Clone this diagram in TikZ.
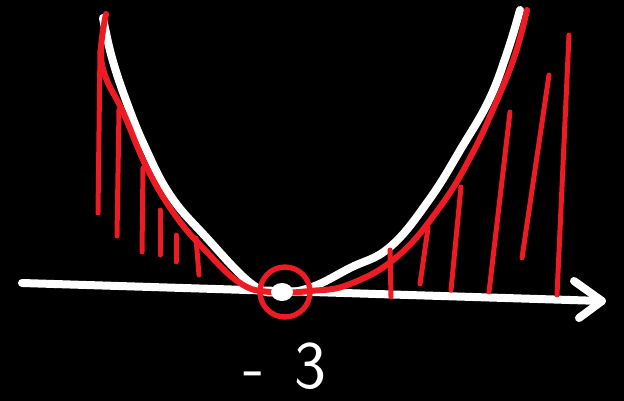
\documentclass[tikz,border=0pt]{standalone}
\usepackage{tikz}
\usetikzlibrary{positioning}
\definecolor{penred}{RGB}{237,28,36}

\begin{document}
\begin{tikzpicture}[
    x=0.03cm, y=-0.03cm,
    chalk/.style={draw=white, line width=0.24cm, line cap=round, line join=round},
    redpen/.style={draw=penred, line width=0.18cm, line cap=round, line join=round},
    hatch/.style={draw=penred, line width=0.15cm, line cap=round},
    label/.style={text=white, inner sep=0pt, font=\sffamily\fontsize{58}{58}\selectfont}
]

% Background
\fill[black] (0,0) rectangle (624,401);
\useasboundingbox (0,0) rectangle (624,401);

% Axis
\coordinate (axisL) at (22,283);
\coordinate (axisR) at (602,301);
\draw[chalk] (axisL) -- (axisR);
\draw[chalk] (574,281) -- (axisR) -- (579,318);

% White parabola
\draw[chalk] plot[smooth, tension=0.7] coordinates {
    (103,18) (112,58) (127,103) (145,147) (170,195) (205,236) (253,285)
    (282,292) (312,287) (350,268) (390,247) (429,200) (462,147) (489,100) (507,53) (520,10)};

% Red parabola
\draw[redpen] plot[smooth, tension=0.7] coordinates {
    (106,14) (101,50) (106,78) (123,112) (147,168) (175,215) (205,250) (240,283)
    (270,292) (310,291) (350,284) (398,256) (440,207) (470,158) (495,105) (515,55) (527,10)};

% Hatching, left
\foreach \xa/\ya/\xb/\yb in {100/50/98/213, 119/110/117/236, 143/168/142/252,
    160/210/160/255, 176/235/176/262, 196/238/199/275}
    \draw[hatch] (\xa,\ya) -- (\xb,\yb);

% Hatching, right
\foreach \xa/\ya/\xb/\yb in {390/250/391/297, 428/228/420/284, 461/187/451/290,
    510/112/489/292, 549/75/522/258, 569/35/557/295}
    \draw[hatch] (\xa,\ya) -- (\xb,\yb);

% Vertex
\coordinate (vertex) at (282,292);
\draw[redpen, line width=0.16cm] (vertex) ++(3,0) circle[radius=25];
\fill[white] (vertex) ellipse[x radius=11, y radius=9];

% Label
\node[label] (root) at (285,366) {-\;\,3};

\end{tikzpicture}
\end{document}
